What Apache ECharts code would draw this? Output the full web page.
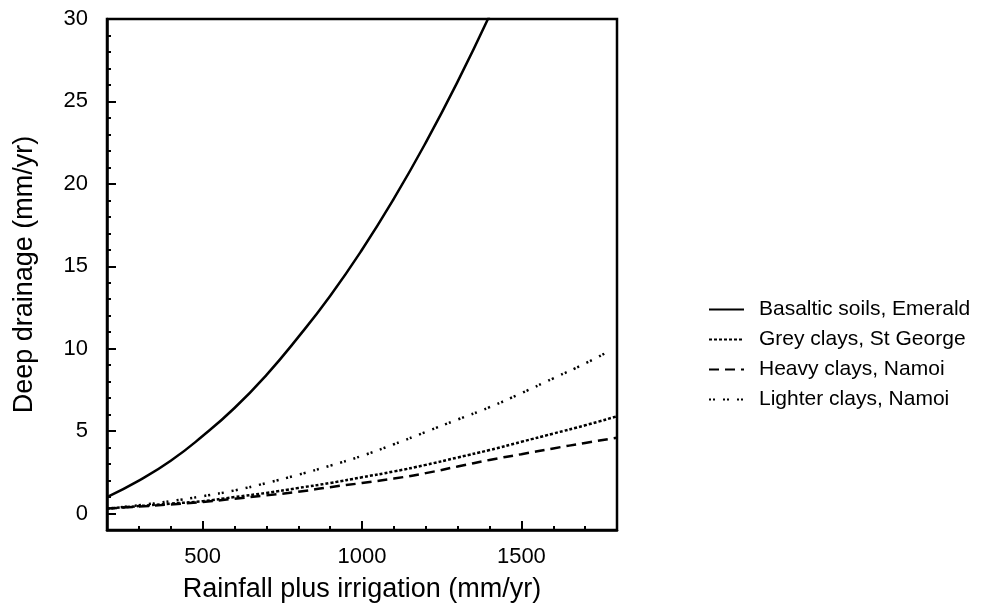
<!DOCTYPE html>
<html lang="en">
<head>
    <meta charset="UTF-8">
    <title>Deep drainage</title>
    <script src="https://cdn.jsdelivr.net/npm/echarts@6.0.0/dist/echarts.min.js"></script>
</head>
<body style="margin:0; background:#fff;">
    <div id="main" style="width: 983px; height: 609px"></div>
    <script type="text/javascript">

      // x values (mm/yr), shared by the curves
      const rainfall = [200, 300, 400, 500, 600, 700, 800, 900, 1000, 1100, 1200, 1300, 1400, 1500, 1600, 1700, 1800];

      // deep drainage (mm/yr)
      const basaltic = [1.0, 2.0, 3.2, 4.7, 6.4, 8.4, 10.7, 13.2, 16.0, 19.1, 22.5, 26.2, 30.2];
      const greyClays = [0.3, 0.45, 0.6, 0.75, 1.0, 1.25, 1.55, 1.85, 2.2, 2.55, 2.95, 3.4, 3.85, 4.35, 4.85, 5.35, 5.9];
      const heavyClays = [0.3, 0.42, 0.55, 0.7, 0.9, 1.1, 1.32, 1.6, 1.85, 2.12, 2.45, 2.85, 3.25, 3.6, 3.95, 4.28, 4.6];
      const lighterClays = [0.3, 0.5, 0.75, 1.05, 1.4, 1.85, 2.35, 2.9, 3.5, 4.2, 4.95, 5.7, 6.45, 7.3, 8.2, 9.1];
      const lighterEnd = [1780, 9.9];

      const xLabels = [500, 1000, 1500];
      const yLabels = [0, 5, 10, 15, 20, 25, 30];

      const font = "Liberation Sans";
      const pairs = (ys) => ys.map((y, i) => [rainfall[i], y]);

      let myChart = echarts.init(document.getElementById("main"));

      const lineSeries = (name, data, type) => ({
        name: name,
        type: "line",
        data: data,
        smooth: true,
        symbol: "none",
        lineStyle: { color: "#000", width: 2.5, type: type },
        itemStyle: { color: "#000" }
      });

      let options = {
        backgroundColor: "#fff",
        animation: false,
        textStyle: { fontFamily: font, color: "#000" },
        grid: {
          left: 107, top: 19, width: 510, height: 511,
          show: true, borderColor: "#000", borderWidth: 2.5
        },
        legend: {
          orient: "vertical",
          left: 703,
          top: 294,
          itemWidth: 35,
          itemHeight: 14,
          itemGap: 9,
          itemStyle: { opacity: 0, borderWidth: 0 },
          textStyle: { fontFamily: font, fontSize: 21, color: "#000", padding: [0, 0, 0, 10] },
          data: ["Basaltic soils, Emerald", "Grey clays, St George", "Heavy clays, Namoi", "Lighter clays, Namoi"]
        },
        xAxis: [
          {
            type: "value", min: 200, max: 1800, interval: 100,
            axisLine: { onZero: false, lineStyle: { color: "#000", width: 2.5 } },
            axisTick: { inside: true, length: 4, lineStyle: { color: "#000", width: 2 } },
            axisLabel: { show: false },
            splitLine: { show: false }
          },
          {
            type: "value", min: 200, max: 1800, position: "bottom",
            axisLine: { show: false, onZero: false },
            axisTick: { inside: true, length: 9, customValues: xLabels, lineStyle: { color: "#000", width: 2 } },
            axisLabel: {
              customValues: xLabels, fontSize: 22, color: "#000", margin: 16, fontFamily: font,
              formatter: (v) => String(v)
            },
            splitLine: { show: false },
            name: "Rainfall plus irrigation (mm/yr)",
            nameLocation: "middle",
            nameGap: 46,
            nameTextStyle: { fontSize: 27, color: "#000", fontFamily: font }
          }
        ],
        yAxis: [
          {
            type: "value", min: -1, max: 30, interval: 1,
            axisLine: { onZero: false, lineStyle: { color: "#000", width: 2.5 } },
            axisTick: { inside: true, length: 4, lineStyle: { color: "#000", width: 2 } },
            axisLabel: { show: false },
            splitLine: { show: false }
          },
          {
            type: "value", min: -1, max: 30, position: "left",
            axisLine: { show: false, onZero: false },
            axisTick: { inside: true, length: 9, customValues: yLabels, lineStyle: { color: "#000", width: 2 } },
            axisLabel: { customValues: yLabels, fontSize: 22, color: "#000", margin: 19, fontFamily: font },
            splitLine: { show: false },
            name: "Deep drainage (mm/yr)",
            nameLocation: "middle",
            nameGap: 69,
            nameTextStyle: { fontSize: 27, color: "#000", fontFamily: font }
          }
        ],
        series: [
          lineSeries("Basaltic soils, Emerald", pairs(basaltic), "solid"),
          lineSeries("Grey clays, St George", pairs(greyClays), [3, 2]),
          lineSeries("Heavy clays, Namoi", pairs(heavyClays), [10, 6]),
          lineSeries("Lighter clays, Namoi", pairs(lighterClays).concat([lighterEnd]), [2, 2, 2, 8])
        ]
      };

      myChart.setOption(options);

    </script>
</body>
</html>
